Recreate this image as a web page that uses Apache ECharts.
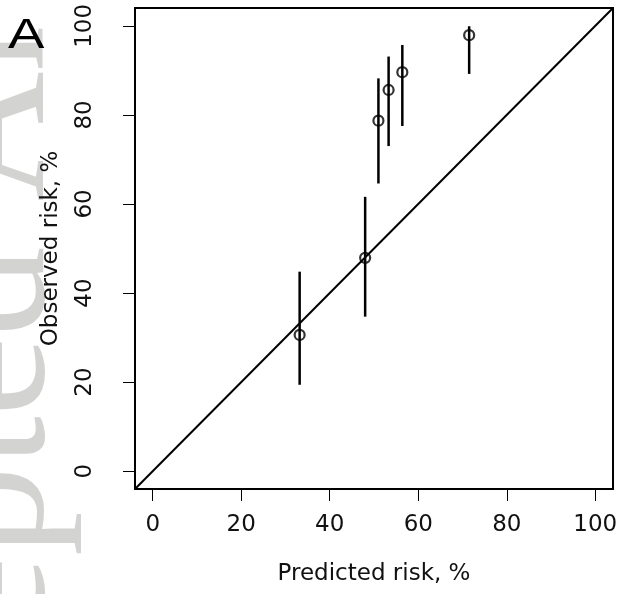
<!DOCTYPE html>
<html>
<head>
<meta charset="utf-8">
<script src="https://cdn.jsdelivr.net/npm/echarts@6/dist/echarts.min.js"></script>
<style>
  html, body { margin: 0; padding: 0; background: #fff; }
  #chart { width: 621px; height: 594px; }
</style>
</head>
<body>
<div id="chart"></div>
<script>
// calibration points: predicted vs observed risk (%), with CI
var predicted = [33.2, 48.0, 51.0, 53.3, 56.4, 71.5];
var observed  = [30.6, 47.9, 78.7, 85.6, 89.6, 97.9];
var ciLow     = [19.4, 34.7, 64.6, 73.0, 77.5, 89.2];
var ciHigh    = [44.8, 61.6, 88.2, 93.1, 95.7, 99.9];
var tickValues = [0, 20, 40, 60, 80, 100];
var diagonal = [[-4, -4], [104, 104]];

var myChart = echarts.init(document.getElementById('chart'));

var points = predicted.map(function (x, i) { return [x, observed[i]]; });
var bars = predicted.map(function (x, i) { return [x, ciLow[i], ciHigh[i]]; });

var labelFont = 'DejaVu Sans';

var option = {
    backgroundColor: '#fff',
    animation: false,
    grid: {
        left: 135, right: 8, top: 8, bottom: 105,
        show: true,
        borderColor: '#000',
        borderWidth: 2,
        backgroundColor: 'transparent'
    },
    graphic: [
        {   // faint watermark on the left edge
            type: 'text',
            x: 86, y: 926,
            rotation: Math.PI / 2,
            z: -10,
            silent: true,
            style: {
                text: 'Accepted Article',
                fontFamily: 'Liberation Serif',
                fontSize: 180,
                fill: '#d3d4d2',
                align: 'left',
                verticalAlign: 'bottom'
            }
        },
        {   // panel letter
            type: 'text',
            x: 8, y: 15,
            scaleX: 1.3,
            style: {
                text: 'A',
                fontFamily: 'Liberation Sans',
                fontSize: 42,
                fill: '#000'
            }
        }
    ],
    xAxis: {
        type: 'value',
        min: -4, max: 104,
        name: 'Predicted risk, %',
        nameLocation: 'middle',
        nameGap: 74,
        nameTextStyle: { color: '#111', fontSize: 23, fontFamily: labelFont },
        splitLine: { show: false },
        axisLine: { show: true, onZero: false, lineStyle: { color: '#000', width: 2 } },
        axisTick: { show: true, length: 12, customValues: tickValues, lineStyle: { color: '#000', width: 1 } },
        axisLabel: { customValues: tickValues, margin: 25, color: '#111', fontSize: 23, fontFamily: labelFont }
    },
    yAxis: {
        type: 'value',
        min: -4, max: 104,
        name: 'Observed risk, %',
        nameLocation: 'middle',
        nameRotate: 90,
        nameGap: 72,
        nameTextStyle: { color: '#111', fontSize: 23, fontFamily: labelFont },
        splitLine: { show: false },
        axisLine: { show: true, onZero: false, lineStyle: { color: '#000', width: 2 } },
        axisTick: { show: true, length: 12, customValues: tickValues, lineStyle: { color: '#000', width: 1 } },
        axisLabel: { customValues: tickValues, rotate: 90, margin: 38, color: '#111', fontSize: 23, fontFamily: labelFont }
    },
    series: [
        {
            type: 'line',
            data: diagonal,
            symbol: 'none',
            silent: true,
            lineStyle: { color: '#000', width: 2 },
            z: 2
        },
        {
            type: 'custom',
            data: bars,
            silent: true,
            z: 3,
            renderItem: function (params, api) {
                var lo = api.coord([api.value(0), api.value(1)]);
                var hi = api.coord([api.value(0), api.value(2)]);
                return {
                    type: 'line',
                    shape: { x1: lo[0], y1: lo[1], x2: hi[0], y2: hi[1] },
                    style: { stroke: '#000', lineWidth: 2.5 }
                };
            }
        },
        {
            type: 'scatter',
            data: points,
            symbol: 'circle',
            symbolSize: 10,
            silent: true,
            z: 4,
            itemStyle: { color: 'rgba(255,255,255,0)', borderColor: '#000', borderWidth: 2.2 }
        }
    ]
};

myChart.setOption(option);
</script>
</body>
</html>
